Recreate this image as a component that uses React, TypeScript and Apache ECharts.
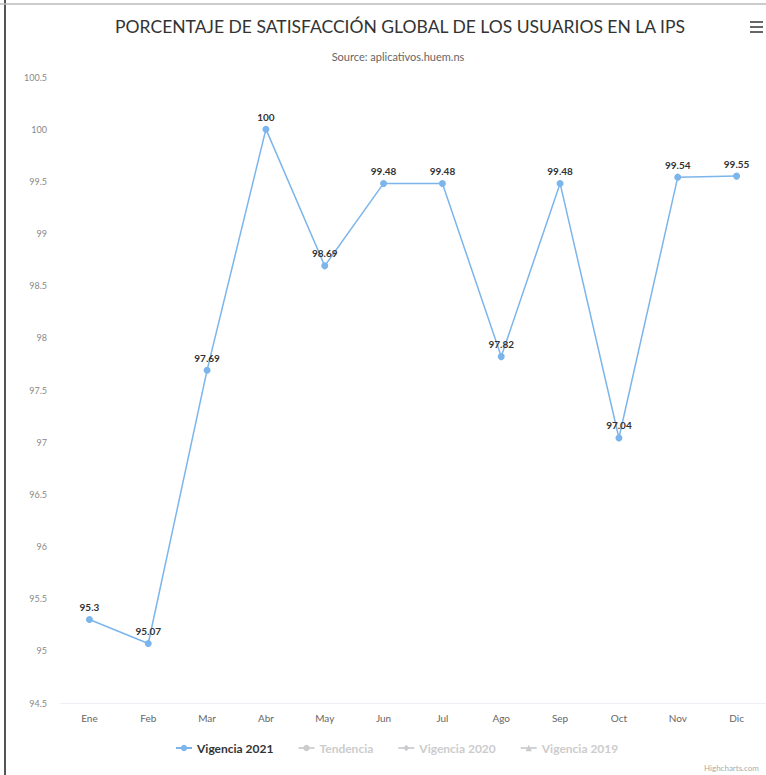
import React, { useEffect, useRef } from "react";
import * as echarts from "echarts";

const titleText = "PORCENTAJE DE SATISFACCIÓN GLOBAL DE LOS USUARIOS EN LA IPS";
const subtitleText = "Source: aplicativos.huem.ns";
const months = ["Ene", "Feb", "Mar", "Abr", "May", "Jun", "Jul", "Ago", "Sep", "Oct", "Nov", "Dic"];
const vigencia2021 = [95.3, 95.07, 97.69, 100, 98.69, 99.48, 99.48, 97.82, 99.48, 97.04, 99.54, 99.55];
const hiddenSeriesNames = ["Tendencia", "Vigencia 2020", "Vigencia 2019"];
const yMin = 94.5;
const yMax = 100.5;
const yStep = 0.5;

export default function App() {
  const ref = useRef<HTMLDivElement>(null);
  useEffect(() => {
    document.body.style.margin = "0";
    const chart = echarts.init(ref.current!, null, { renderer: "svg" });
    const font = "Lato, 'Open Sans', sans-serif";
    const selected: Record<string, boolean> = { "Vigencia 2021": true };
    hiddenSeriesNames.forEach((n) => (selected[n] = false));
    chart.setOption({
      animation: false,
      backgroundColor: "#fff",
      textStyle: { fontFamily: font },
      title: [
        {
          text: titleText,
          left: 395,
          top: 12,
          textAlign: "center",
          textStyle: { fontFamily: font, fontSize: 17.5, fontWeight: "normal", color: "#333" },
        },
        {
          text: subtitleText,
          left: 393,
          top: 46,
          textAlign: "center",
          textStyle: { fontFamily: font, fontSize: 11, fontWeight: "normal", color: "#666" },
        },
      ],
      legend: {
        top: 737,
        left: 170,
        itemGap: 24,
        itemWidth: 16,
        itemHeight: 8,
        inactiveColor: "#ccc",
        selected,
        textStyle: { fontFamily: font, fontSize: 12, fontWeight: "bold", color: "#333" },
        data: ["Vigencia 2021", ...hiddenSeriesNames],
      },
      grid: { left: 60, right: -2, top: 77, bottom: 72 },
      xAxis: {
        type: "category",
        data: months,
        boundaryGap: true,
        axisLine: { show: true, lineStyle: { color: "#eceff4" } },
        axisTick: { show: false },
        axisLabel: { color: "#666", fontSize: 10, margin: 10, fontFamily: font },
        splitLine: { show: false },
      },
      yAxis: {
        type: "value",
        min: yMin,
        max: yMax,
        interval: yStep,
        axisLine: { show: false },
        axisTick: { show: false },
        splitLine: { show: false },
        axisLabel: { color: "#888", fontSize: 9, margin: 13, fontFamily: font },
      },
      series: [
        {
          name: "Vigencia 2021",
          type: "line",
          data: vigencia2021,
          color: "#7cb5ec",
          symbol: "circle",
          symbolSize: 7,
          lineStyle: { width: 1.5, color: "#7cb5ec" },
          itemStyle: { color: "#7cb5ec" },
          label: {
            show: true,
            position: "top",
            distance: 4,
            color: "#333",
            fontSize: 10,
            fontWeight: "bold",
            fontFamily: font,
          },
        },
        { name: "Tendencia", type: "line", data: [], color: "#434348", symbol: "circle" },
        { name: "Vigencia 2020", type: "line", data: [], color: "#90ed7d", symbol: "diamond" },
        { name: "Vigencia 2019", type: "line", data: [], color: "#f7a35c", symbol: "triangle" },
      ],
      graphic: [
        { type: "line", shape: { x1: 5, y1: 0, x2: 5, y2: 775 }, style: { stroke: "#555", lineWidth: 2 } },
        { type: "line", shape: { x1: 0, y1: 4, x2: 766, y2: 4 }, style: { stroke: "#bbb", lineWidth: 1.5 } },
        { type: "rect", shape: { x: 750, y: 21, width: 13, height: 2 }, style: { fill: "#666" } },
        { type: "rect", shape: { x: 750, y: 26, width: 13, height: 2 }, style: { fill: "#666" } },
        { type: "rect", shape: { x: 750, y: 31, width: 13, height: 2 }, style: { fill: "#666" } },
        {
          type: "text",
          x: 704,
          y: 764,
          style: { text: "Highcharts.com", fill: "#aaa", fontSize: 8, fontFamily: font },
        },
      ],
    });
    return () => chart.dispose();
  }, []);
  return <div ref={ref} style={{ width: 766, height: 775 }} />;
}
